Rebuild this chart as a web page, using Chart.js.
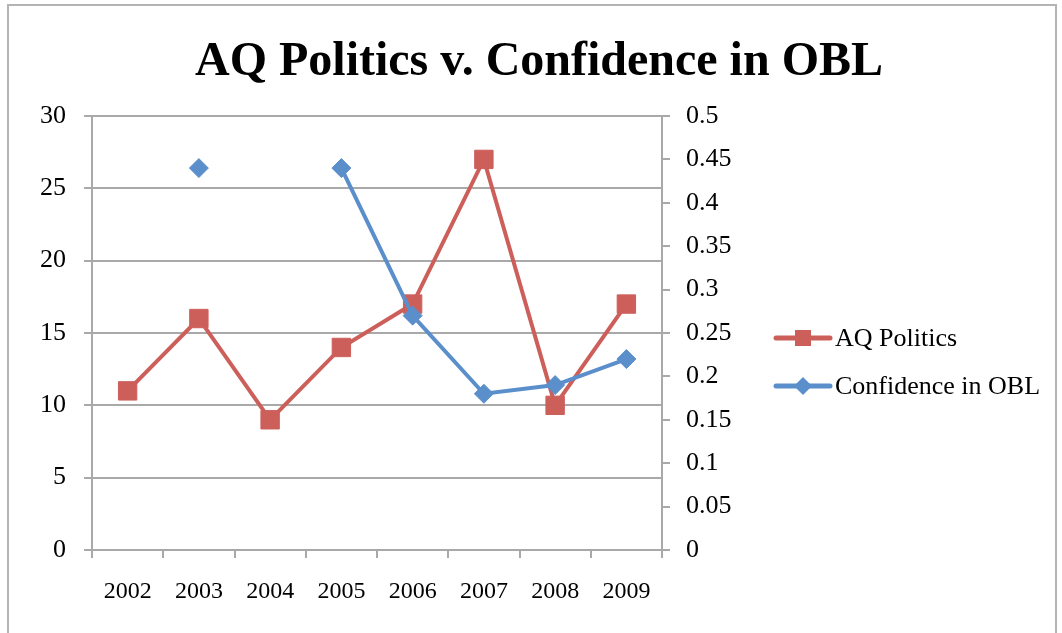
<!DOCTYPE html>
<html>
<head>
<meta charset="utf-8">
<script src="https://cdn.jsdelivr.net/npm/chart.js@4.4.0/dist/chart.umd.min.js"></script>
<style>
  html, body { margin: 0; padding: 0; background: #fff; }
  #wrap { position: absolute; left: 0; top: 0; width: 1062px; height: 633px; }
  #frame { position: absolute; left: 7px; top: 4px; width: 1046px; height: 700px; border: 2px solid #b4b4b4; }
</style>
</head>
<body>
<div id="wrap">
  <div id="frame"></div>
  <canvas id="chart" width="1062" height="633"></canvas>
</div>
<script>
const years = ['2002', '2003', '2004', '2005', '2006', '2007', '2008', '2009'];
const aqPolitics = [11, 16, 9, 14, 17, 27, 10, 17];
const confidenceOBL = [null, 0.44, null, 0.44, 0.27, 0.18, 0.19, 0.22];
const leftTicks = [0, 5, 10, 15, 20, 25, 30];
const rightTicks = [0, 0.05, 0.1, 0.15, 0.2, 0.25, 0.3, 0.35, 0.4, 0.45, 0.5];

const RED = '#cd5f5b';
const BLUE = '#5b8fcb';
const GRID = '#a9a9a9';
const FONT = '"Liberation Serif", serif';

// legend drawn to the right of the plot, line + marker like the original
const sideLegend = {
    id: 'sideLegend',
    afterDraw(chart) {
        const c = chart.ctx;
        const x0 = 776, x1 = 830, tx = 835;
        const rows = [338, 386];
        chart.data.datasets.forEach((ds, i) => {
            const y = rows[i];
            c.save();
            c.strokeStyle = ds.borderColor;
            c.lineWidth = 5;
            c.lineCap = 'round';
            c.beginPath();
            c.moveTo(x0, y);
            c.lineTo(x1, y);
            c.stroke();
            c.fillStyle = ds.borderColor;
            const mx = (x0 + x1) / 2;
            if (ds.pointStyle === 'rect') {
                c.fillRect(mx - 8, y - 8, 16, 16);
            } else {
                c.beginPath();
                c.moveTo(mx, y - 9);
                c.lineTo(mx + 9, y);
                c.lineTo(mx, y + 9);
                c.lineTo(mx - 9, y);
                c.closePath();
                c.fill();
            }
            c.fillStyle = '#000';
            c.font = '26px ' + FONT;
            c.textBaseline = 'middle';
            c.fillText(ds.label, tx, y + 1);
            c.restore();
        });
    }
};

new Chart(document.getElementById('chart'), {
    type: 'line',
    data: {
        labels: years,
        datasets: [{
            label: 'AQ Politics',
            data: aqPolitics,
            yAxisID: 'y',
            borderColor: RED,
            backgroundColor: RED,
            borderWidth: 4,
            pointStyle: 'rect',
            pointRadius: 13,
            pointHoverRadius: 13,
            pointBorderWidth: 1,
            tension: 0,
            order: 1
        }, {
            label: 'Confidence in OBL',
            data: confidenceOBL,
            yAxisID: 'y2',
            borderColor: BLUE,
            backgroundColor: BLUE,
            borderWidth: 4,
            pointStyle: 'rectRot',
            pointRadius: 9.5,
            pointHoverRadius: 9.5,
            pointBorderWidth: 1,
            spanGaps: false,
            tension: 0,
            order: 0
        }]
    },
    options: {
        responsive: false,
        animation: false,
        layout: { padding: { left: 16, right: 0, top: 0, bottom: 0 } },
        plugins: {
            legend: { display: false },
            tooltip: { enabled: false },
            title: {
                display: true,
                text: 'AQ Politics v. Confidence in OBL',
                color: '#000',
                font: { family: FONT, size: 48, weight: 'bold', lineHeight: 1.2 },
                padding: { top: 34, bottom: 24.4 }
            }
        },
        scales: {
            x: {
                offset: true,
                grid: { offset: true, drawOnChartArea: false, color: GRID, lineWidth: 2, tickLength: 8 },
                border: { color: GRID, width: 2 },
                ticks: { color: '#000', font: { family: FONT, size: 24 }, padding: 19, maxRotation: 0 },
                afterFit(s) { s.height = 83; }
            },
            y: {
                position: 'left',
                min: 0,
                max: 30,
                afterBuildTicks(s) { s.ticks = leftTicks.map(v => ({ value: v })); },
                grid: { color: GRID, lineWidth: 2, tickLength: 8 },
                border: { color: GRID, width: 2 },
                ticks: { color: '#000', font: { family: FONT, size: 26 }, padding: 18 },
                afterFit(s) { s.width = 76; }
            },
            y2: {
                position: 'right',
                min: 0,
                max: 0.5,
                afterBuildTicks(s) { s.ticks = rightTicks.map(v => ({ value: v })); },
                grid: { drawOnChartArea: false, color: GRID, lineWidth: 2, tickLength: 8 },
                border: { color: GRID, width: 2 },
                ticks: {
                    color: '#000',
                    font: { family: FONT, size: 26 },
                    padding: 16,
                    callback: v => String(Math.round(v * 100) / 100)
                },
                afterFit(s) { s.width = 400; }
            }
        }
    },
    plugins: [sideLegend]
});
</script>
</body>
</html>
